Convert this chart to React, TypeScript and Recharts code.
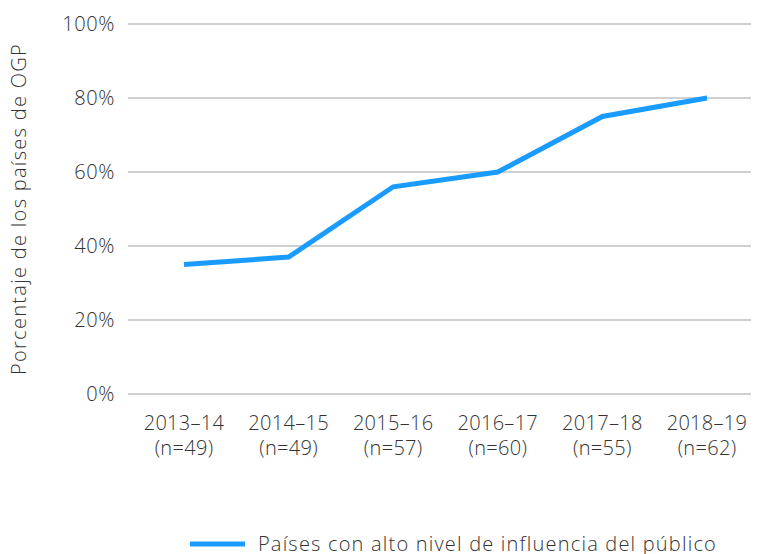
import { CartesianGrid, Legend, Line, LineChart, XAxis, YAxis } from "recharts";

const periods = ["2013–14", "2014–15", "2015–16", "2016–17", "2017–18", "2018–19"];
const sampleSizes = [49, 49, 57, 60, 55, 62];
const highInfluence = [35, 37, 56, 60, 75, 80];
const yTicks = [0, 20, 40, 60, 80, 100];

const seriesName = "Países con alto nivel de influencia del público";
const blue = "#1a9bff";
const textColor = "#333333";
const font = "'Open Sans', sans-serif";

const data = periods.map((p, i) => ({
    period: p,
    n: sampleSizes[i],
    value: highInfluence[i],
}));

function PeriodTick({ x, y, payload, index }: any) {
    return (
        <text x={x} y={y} textAnchor="middle" fill={textColor} fontSize={20} fontWeight={300} fontFamily={font} letterSpacing={0.3}>
            <tspan x={x} dy={17}>{payload.value}</tspan>
            <tspan x={x} dy={25}>(n={sampleSizes[index]})</tspan>
        </text>
    );
}

function LegendContent() {
    return (
        <div style={{ height: 96, paddingLeft: 140, display: "flex", justifyContent: "center", alignItems: "flex-end", fontFamily: font, fontWeight: 300, fontSize: 20, letterSpacing: 1.2, color: textColor }}>
            <div style={{ display: "flex", alignItems: "center", height: 18, lineHeight: "18px", marginBottom: 1 }}>
                <svg width={55} height={8} style={{ marginRight: 13 }}>
                    <line x1={0} y1={4} x2={55} y2={4} stroke={blue} strokeWidth={5} />
                </svg>
                <span>{seriesName}</span>
            </div>
        </div>
    );
}

export default function App() {
    return (
        <LineChart width={751} height={546} data={data} margin={{ top: 16, right: 0, left: 0, bottom: 0 }}>
            <CartesianGrid vertical={false} stroke="#c0c0c0" strokeWidth={1.5} />
            <XAxis
                dataKey="period"
                axisLine={false}
                tickLine={false}
                tickSize={0}
                tickMargin={19}
                interval={0}
                height={64}
                padding={{ left: 56, right: 52 }}
                tick={<PeriodTick />}
            />
            <YAxis
                domain={[0, 100]}
                ticks={yTicks}
                tickFormatter={(v) => `${v}%`}
                axisLine={false}
                tickLine={false}
                tickSize={0}
                tickMargin={13}
                width={120}
                tick={{ fill: textColor, fontSize: 20, fontWeight: 300, fontFamily: font, letterSpacing: 0.6 }}
                label={{
                    value: "Porcentaje de los países de OGP",
                    angle: -90,
                    position: "insideLeft",
                    offset: 11,
                    style: { textAnchor: "middle", fill: textColor, fontSize: 20, fontWeight: 300, fontFamily: font, letterSpacing: 1.3 },
                }}
            />
            <Legend verticalAlign="bottom" content={<LegendContent />} wrapperStyle={{ bottom: 0 }} />
            <Line
                dataKey="value"
                name={seriesName}
                stroke={blue}
                strokeWidth={5}
                dot={false}
                activeDot={false}
                isAnimationActive={false}
            />
        </LineChart>
    );
}
